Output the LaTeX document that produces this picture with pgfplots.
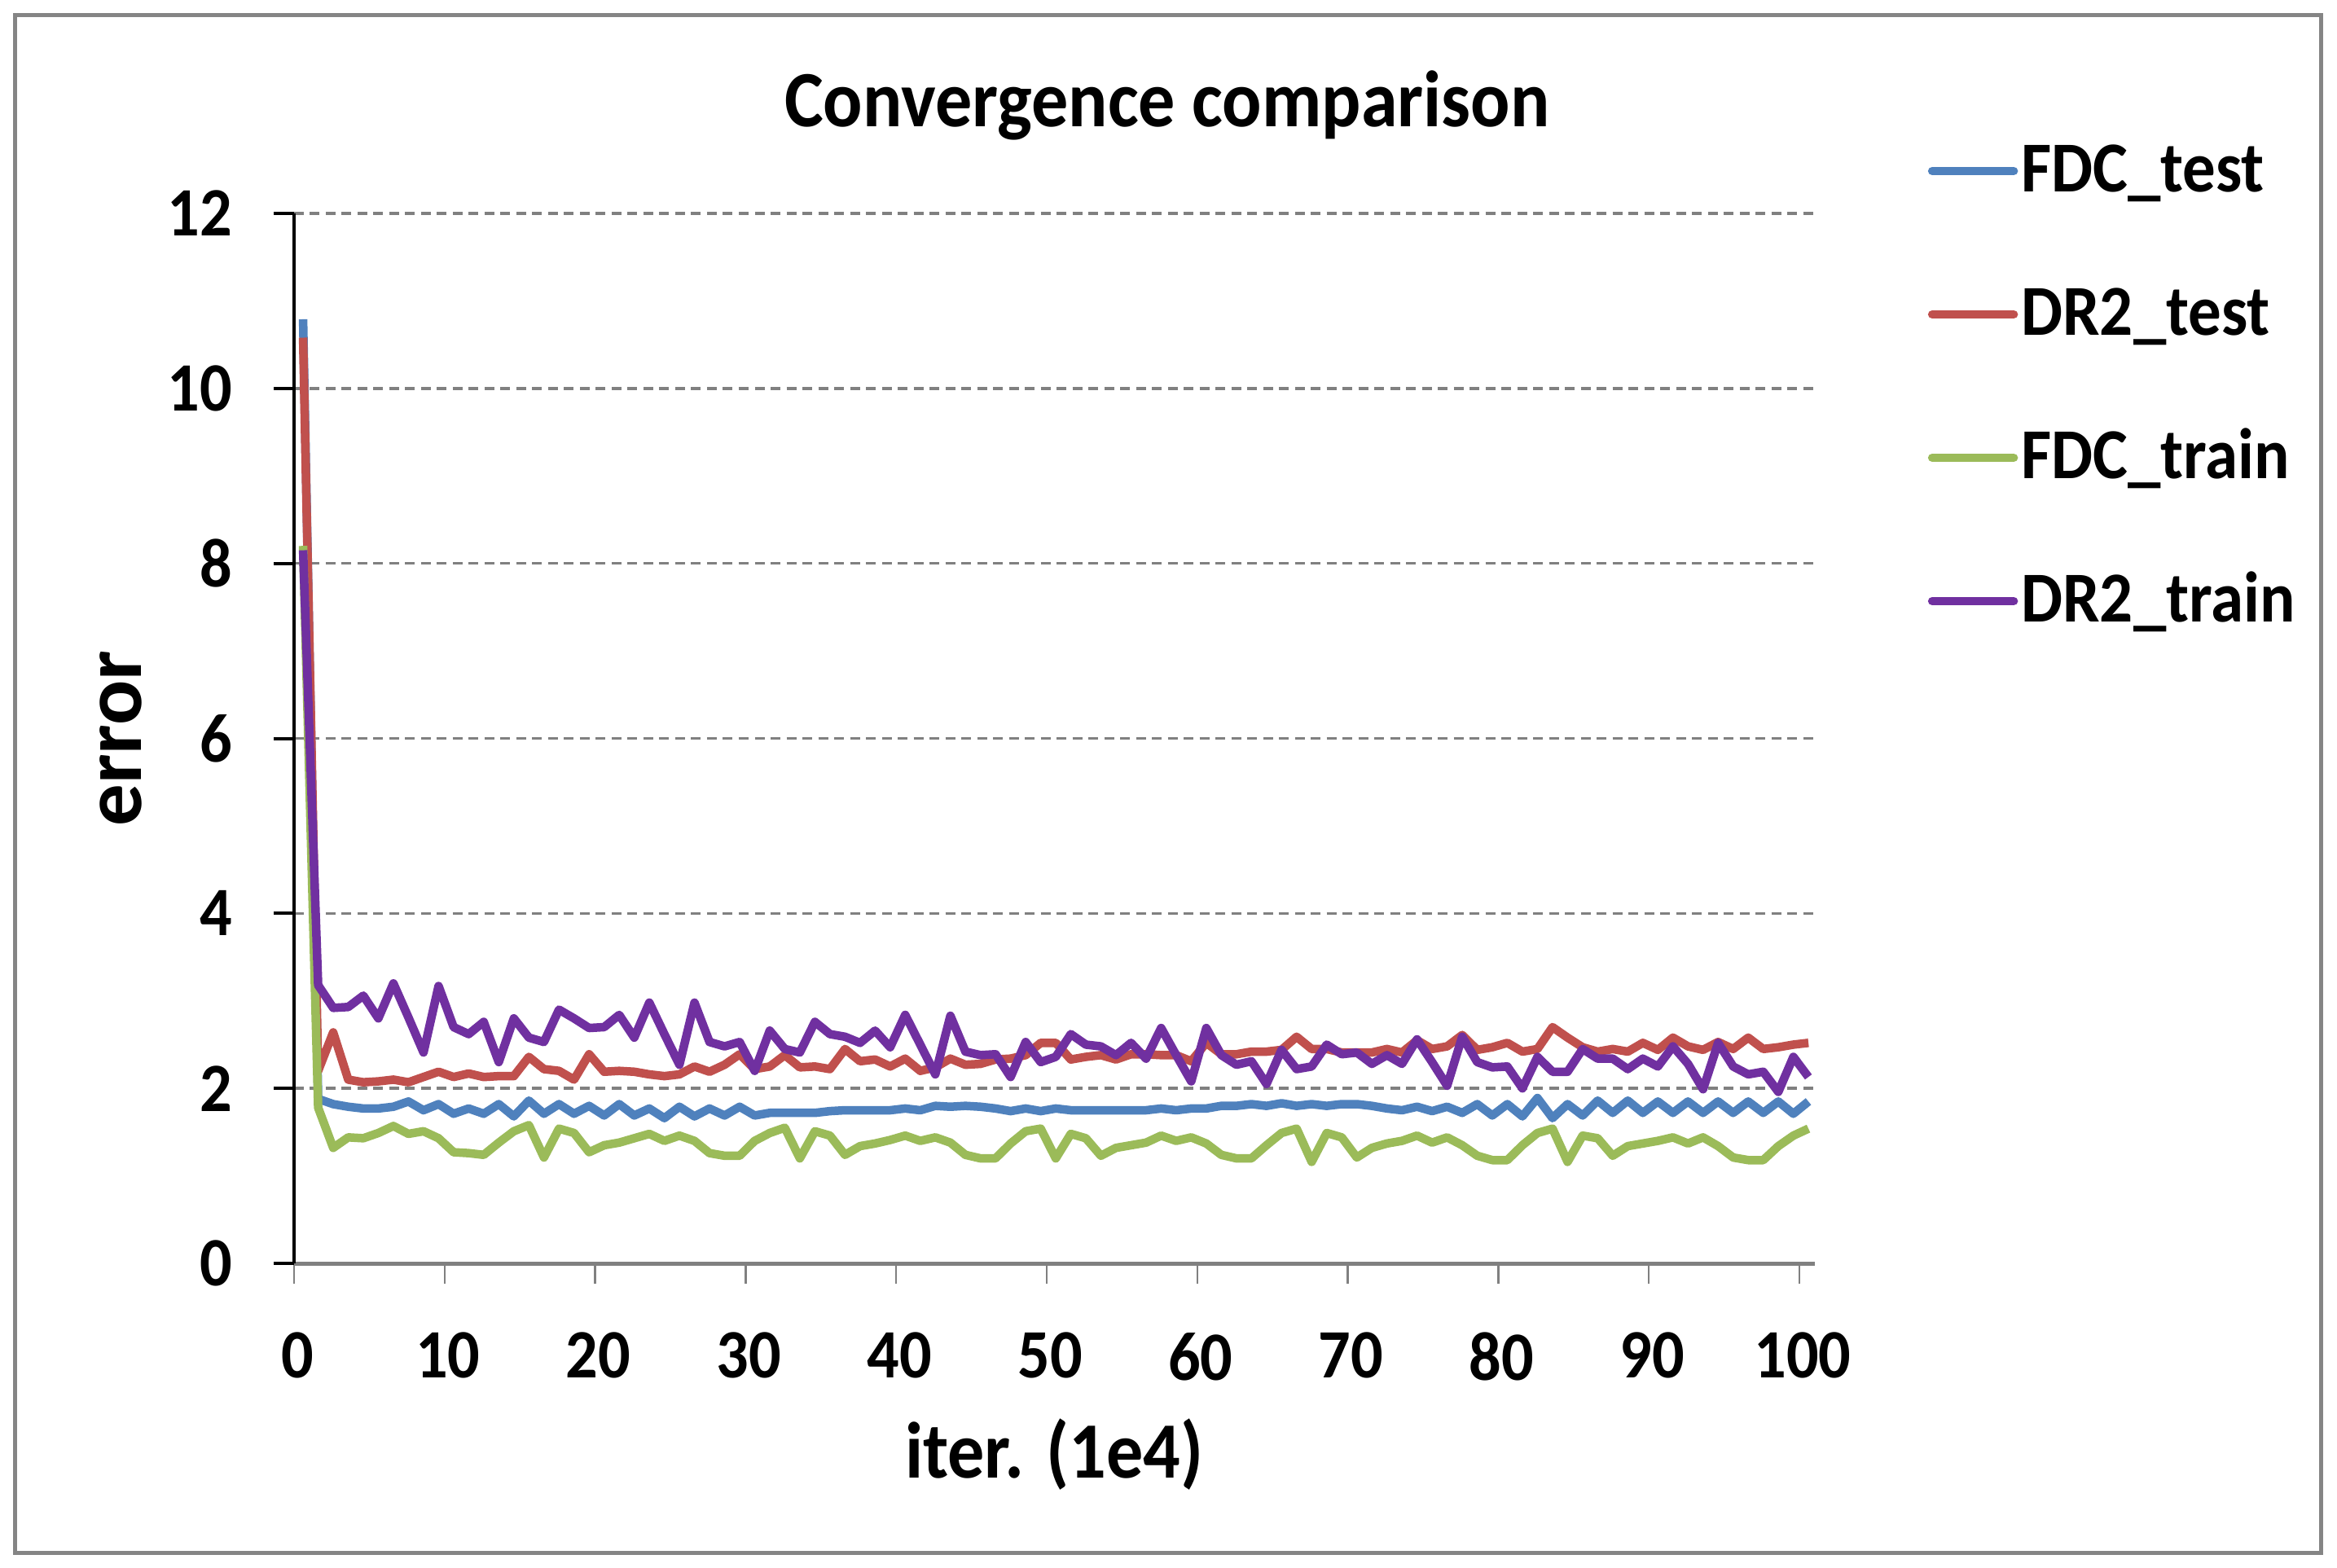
\documentclass[border=0pt]{standalone}
\usepackage{fontspec}
\setmainfont{Carlito}[FakeStretch=0.92]
\newfontfamily\plainfont{Carlito}
\usepackage{pgfplots}
\usepackage{pgfplotstable}
\pgfplotsset{compat=1.18}
\definecolor{cblue}{HTML}{4F81BD}
\definecolor{cred}{HTML}{C0504D}
\definecolor{cgreen}{HTML}{9BBB59}
\definecolor{cpurple}{HTML}{7030A0}
\definecolor{cgrid}{HTML}{808080}
\definecolor{cframe}{HTML}{858585}

\pgfplotstableread{
x fdcte drte fdctr drtr
0.6 10.79 10.58 8.20 8.15
1.6 1.88 2.20 1.78 3.18
2.6 1.82 2.64 1.32 2.92
3.6 1.79 2.10 1.44 2.93
4.6 1.77 2.07 1.43 3.06
5.6 1.77 2.08 1.49 2.80
6.6 1.79 2.10 1.57 3.20
7.6 1.85 2.07 1.48 2.81
8.6 1.75 2.13 1.51 2.41
9.6 1.82 2.19 1.43 3.17
10.6 1.71 2.13 1.27 2.70
11.6 1.77 2.17 1.26 2.62
12.6 1.71 2.13 1.24 2.76
13.6 1.82 2.14 1.38 2.30
14.6 1.68 2.14 1.51 2.80
15.6 1.86 2.36 1.58 2.58
16.6 1.71 2.22 1.21 2.53
17.6 1.82 2.20 1.54 2.90
18.6 1.71 2.10 1.49 2.80
19.6 1.80 2.39 1.27 2.69
20.6 1.69 2.19 1.35 2.70
21.6 1.82 2.20 1.38 2.84
22.6 1.69 2.19 1.43 2.58
23.6 1.77 2.16 1.48 2.98
24.6 1.66 2.14 1.40 2.62
25.6 1.79 2.16 1.46 2.27
26.6 1.68 2.25 1.40 2.98
27.6 1.77 2.19 1.26 2.53
28.6 1.69 2.27 1.23 2.48
29.6 1.79 2.39 1.23 2.53
30.6 1.69 2.22 1.40 2.20
31.6 1.72 2.25 1.49 2.66
32.6 1.72 2.38 1.55 2.45
33.6 1.72 2.24 1.20 2.41
34.6 1.72 2.25 1.51 2.76
35.6 1.74 2.22 1.46 2.62
36.6 1.75 2.45 1.24 2.59
37.6 1.75 2.31 1.34 2.52
38.6 1.75 2.33 1.37 2.66
39.6 1.75 2.25 1.41 2.47
40.6 1.77 2.34 1.46 2.84
41.6 1.75 2.20 1.40 2.50
42.6 1.80 2.24 1.44 2.16
43.6 1.79 2.34 1.38 2.83
44.6 1.80 2.27 1.24 2.42
45.6 1.79 2.28 1.20 2.38
46.6 1.77 2.33 1.20 2.39
47.6 1.74 2.34 1.37 2.13
48.6 1.77 2.38 1.51 2.53
49.6 1.74 2.52 1.54 2.30
50.6 1.77 2.52 1.20 2.36
51.6 1.75 2.33 1.48 2.62
52.6 1.75 2.36 1.43 2.50
53.6 1.75 2.38 1.23 2.48
54.6 1.75 2.33 1.32 2.38
55.6 1.75 2.39 1.35 2.52
56.6 1.75 2.39 1.38 2.34
57.6 1.77 2.38 1.46 2.69
58.6 1.75 2.38 1.40 2.38
59.6 1.77 2.31 1.44 2.08
60.6 1.77 2.52 1.37 2.69
61.6 1.80 2.39 1.24 2.38
62.6 1.80 2.39 1.20 2.27
63.6 1.82 2.42 1.20 2.31
64.6 1.80 2.42 1.35 2.05
65.6 1.83 2.44 1.49 2.44
66.6 1.80 2.59 1.54 2.22
67.6 1.82 2.45 1.16 2.25
68.6 1.80 2.45 1.49 2.50
69.6 1.82 2.41 1.44 2.39
70.6 1.82 2.41 1.21 2.41
71.6 1.80 2.41 1.32 2.28
72.6 1.77 2.45 1.37 2.38
73.6 1.75 2.41 1.40 2.28
74.6 1.79 2.55 1.46 2.56
75.6 1.74 2.45 1.38 2.30
76.6 1.79 2.48 1.44 2.03
77.6 1.72 2.61 1.35 2.59
78.6 1.82 2.44 1.23 2.30
79.6 1.69 2.47 1.18 2.24
80.6 1.82 2.52 1.18 2.25
81.6 1.68 2.42 1.35 2.00
82.6 1.89 2.45 1.49 2.36
83.6 1.66 2.70 1.54 2.19
84.6 1.82 2.58 1.16 2.19
85.6 1.69 2.47 1.46 2.45
86.6 1.86 2.42 1.43 2.34
87.6 1.72 2.45 1.23 2.34
88.6 1.86 2.42 1.34 2.22
89.6 1.72 2.52 1.37 2.34
90.6 1.85 2.44 1.40 2.25
91.6 1.72 2.58 1.44 2.48
92.6 1.85 2.48 1.37 2.28
93.6 1.72 2.44 1.44 1.99
94.6 1.85 2.53 1.34 2.52
95.6 1.72 2.45 1.21 2.25
96.6 1.85 2.58 1.18 2.16
97.6 1.72 2.45 1.18 2.19
98.6 1.85 2.47 1.34 1.96
99.6 1.71 2.50 1.46 2.36
100.6 1.85 2.52 1.54 2.13
}\datatable

\begin{document}
\begin{tikzpicture}
\begin{axis}[
  at={(36.1pt,-155.1pt)}, anchor=south west,
  scale only axis, width=186.65pt, height=128.9pt,
  xmin=0, xmax=101, ymin=0, ymax=12,
  xtick={0,10,...,100}, ytick={0,2,...,12},
  axis lines*=left,
  x axis line style={draw=cgrid, line width=0.5pt},
  y axis line style={draw=black, line width=0.4pt},
  tick align=outside, major tick length=2.5pt,
  xtick style={draw=cgrid, line width=0.25pt},
  ytick style={draw=black, line width=0.4pt},
  ymajorgrids,
  grid style={draw=cgrid, line width=0.35pt, dash pattern=on 1.2pt off 0.75pt},
  /pgf/number format/assume math mode=true,
  tick label style={font=\fontsize{8.5}{10}\selectfont\bfseries},
  xticklabel style={anchor=north, inner sep=0pt, xshift=0.4pt},
  yticklabel style={anchor=east, inner sep=0pt},
  xticklabel shift=5.8pt,
  yticklabel shift=4.9pt,
  every axis title shift=0pt,
  title={Convergence comparison},
  title style={at={(axis description cs:0.5743,1.0830)}, anchor=base, inner sep=0pt, font=\fontsize{9.8}{11}\selectfont\bfseries},
  xlabel={iter. (1e4)},
  xlabel style={at={(axis description cs:0.5,-0.2048)}, anchor=base, inner sep=0pt, font=\fontsize{9.8}{11}\selectfont\bfseries},
  ylabel={error},
  ylabel style={at={(axis description cs:-0.1002,0.5)}, rotate=0, anchor=base, inner sep=0pt, font=\plainfont\fontsize{10.3}{12}\selectfont\bfseries},
  legend style={draw=none, fill=none, at={(axis description cs:1.0736,1.0683)}, anchor=north west,
    inner sep=0pt, column sep=0.4pt, row sep=9.6pt,
    font=\fontsize{8.8}{10}\selectfont\bfseries,
    nodes={inner sep=0pt, text height=6pt, text depth=2pt},
    cells={anchor=base west}},
  legend image code/.code={\draw[#1, line cap=round] (0pt,2.6pt) -- (10pt,2.6pt);},
  every axis plot/.append style={line width=1.05pt, line join=round, mark=none},
]
\addplot[cblue] table[x=x, y=fdcte]{\datatable};
\addlegendentry{FDC\_test}
\addplot[cred] table[x=x, y=drte]{\datatable};
\addlegendentry{DR2\_test}
\addplot[cgreen] table[x=x, y=fdctr]{\datatable};
\addlegendentry{FDC\_train}
\addplot[cpurple] table[x=x, y=drtr]{\datatable};
\addlegendentry{DR2\_train}
\end{axis}
\draw[draw=cframe, line width=0.5pt] (1.8pt,-1.9pt) rectangle (284.9pt,-190.6pt);
\pgfresetboundingbox
\path[use as bounding box] (0pt,0pt) rectangle (286.9pt,-192.5pt);
\end{tikzpicture}
\end{document}
